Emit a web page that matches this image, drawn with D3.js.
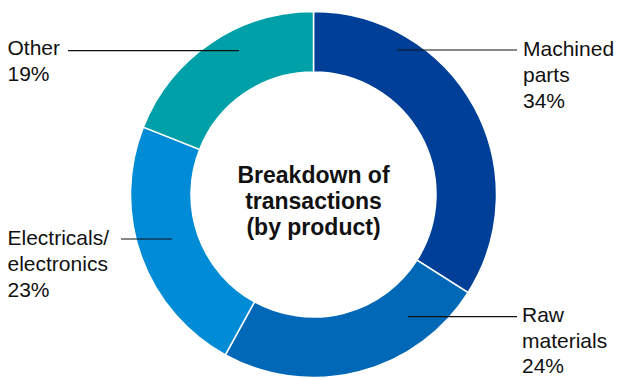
<!DOCTYPE html>
<html>
<head>
<meta charset="utf-8">
<script src="https://cdn.jsdelivr.net/npm/d3@7"></script>
<style>
    body { margin: 0; background: #fff; }
    text { font-family: "Liberation Sans", Arial, Helvetica, sans-serif; fill: #111; }
</style>
</head>
<body>
<div id="chart"></div>
<script>
// data
var categories = ["Machined parts", "Raw materials", "Electricals/electronics", "Other"];
var shares = [34, 24, 23, 19];
var labelNames = [["Machined", "parts"], ["Raw", "materials"], ["Electricals/", "electronics"], ["Other"]];
var colors = ["#003f98", "#0068b7", "#008bd6", "#00a0a8"];
var centerTitle = ["Breakdown of", "transactions", "(by product)"];

// label layout (text anchor + leader line)
var labelLayout = [
    { tx: 523, ty: 56, ly: 50, x1: 397, x2: 517 },
    { tx: 522, ty: 322, ly: 316.7, x1: 408, x2: 517 },
    { tx: 7.5, ty: 245, ly: 239, x1: 121, x2: 172 },
    { tx: 7.5, ty: 55, ly: 50.7, x1: 68, x2: 239 }
];

var width = 620, height = 378;
var cx = 313.5, cy = 194.5;
var outerR = 183, innerR = 122.5;

var svg = d3.select("#chart").append("svg")
    .attr("width", width)
    .attr("height", height);

var data = categories.map(function(c, i) {
    return { name: c, value: shares[i], lines: labelNames[i], color: colors[i], layout: labelLayout[i] };
});

var pie = d3.pie()
    .sort(null)
    .value(function(d) { return d.value; });

var arc = d3.arc()
    .innerRadius(innerR)
    .outerRadius(outerR);

var g = svg.append("g")
    .attr("transform", "translate(" + cx + "," + cy + ")");

g.selectAll("path.slice")
    .data(pie(data))
    .enter().append("path")
    .attr("class", "slice")
    .attr("d", arc)
    .attr("fill", function(d) { return d.data.color; })
    .attr("stroke", "#fff")
    .attr("stroke-width", 1.5);

// center title
g.append("text")
    .attr("text-anchor", "middle")
    .style("font-size", "23px")
    .style("font-weight", "bold")
    .selectAll("tspan")
    .data(centerTitle)
    .enter().append("tspan")
    .attr("x", 0)
    .attr("y", function(d, i) { return -11.3 + i * 26; })
    .text(function(d) { return d; });

// leader lines
svg.selectAll("line.leader")
    .data(data)
    .enter().append("line")
    .attr("class", "leader")
    .attr("x1", function(d) { return d.layout.x1; })
    .attr("x2", function(d) { return d.layout.x2; })
    .attr("y1", function(d) { return d.layout.ly; })
    .attr("y2", function(d) { return d.layout.ly; })
    .attr("stroke", "#111")
    .attr("stroke-width", 1.2);

// labels
var labels = svg.selectAll("text.label")
    .data(data)
    .enter().append("text")
    .attr("class", "label")
    .style("font-size", "21px");

labels.each(function(d) {
    var t = d3.select(this);
    var rows = d.lines.concat([d.value + "%"]);
    var step = d.name === "Raw materials" ? 25.5 : 26;
    rows.forEach(function(r, i) {
        t.append("tspan")
            .attr("x", d.layout.tx)
            .attr("y", d.layout.ty + i * step)
            .text(r);
    });
});
</script>
</body>
</html>
